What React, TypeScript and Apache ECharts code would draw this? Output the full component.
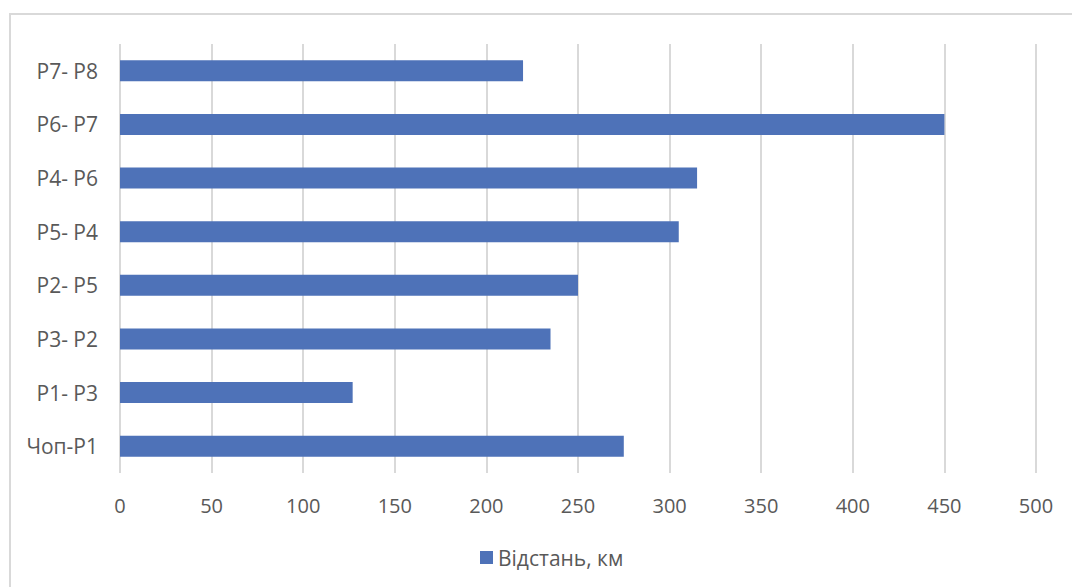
import React, { useEffect, useRef } from "react";
import * as echarts from "echarts";

// Route segments, bottom to top, and their distances in km
const segments = ["Чоп-Р1", "Р1- Р3", "Р3- Р2", "Р2- Р5", "Р5- Р4", "Р4- Р6", "Р6- Р7", "Р7- Р8"];
const distances = [275, 127, 235, 250, 305, 315, 450, 220];
const seriesName = "Відстань, км";
const axisMax = 500;
const axisStep = 50;

const FONT = "'Open Sans', 'Noto Sans', sans-serif";
const TEXT = "#595959";
const GRID = "#d9d9d9";
const BAR = "#4e72b8";

export default function App() {
  const ref = useRef<HTMLDivElement>(null);

  useEffect(() => {
    if (!ref.current) return;
    const chart = echarts.init(ref.current, undefined, { renderer: "svg" });
    chart.setOption({
      animation: false,
      backgroundColor: "#ffffff",
      textStyle: { fontFamily: FONT },
      graphic: [
        {
          type: "rect",
          shape: { x: 10, y: 14, width: 1100, height: 620 },
          style: { fill: "none", stroke: GRID, lineWidth: 2 },
          silent: true,
        },
      ],
      grid: { left: 120, right: 36, top: 44, bottom: 114, containLabel: false },
      legend: {
        top: 542,
        left: 475,
        itemWidth: 13,
        itemHeight: 13,
        icon: "rect",
        itemGap: 6,
        textStyle: { color: TEXT, fontSize: 21, fontFamily: FONT },
        data: [seriesName],
      },
      xAxis: {
        type: "value",
        min: 0,
        max: axisMax,
        interval: axisStep,
        axisLine: { show: false },
        axisTick: { show: false },
        axisLabel: { color: TEXT, fontSize: 20, margin: 22, fontFamily: FONT },
        splitLine: { show: true, lineStyle: { color: GRID, width: 2 } },
      },
      yAxis: {
        type: "category",
        data: segments,
        axisLine: { show: false },
        axisTick: { show: false },
        axisLabel: { color: TEXT, fontSize: 21, margin: 22, fontFamily: FONT },
        splitLine: { show: false },
      },
      series: [
        {
          name: seriesName,
          type: "bar",
          data: distances,
          barWidth: 21,
          itemStyle: { color: BAR },
        },
      ],
    });
    return () => chart.dispose();
  }, []);

  return (
    <div
      ref={ref}
      style={{ position: "fixed", left: 0, top: 0, width: 1072, height: 587 }}
    />
  );
}
